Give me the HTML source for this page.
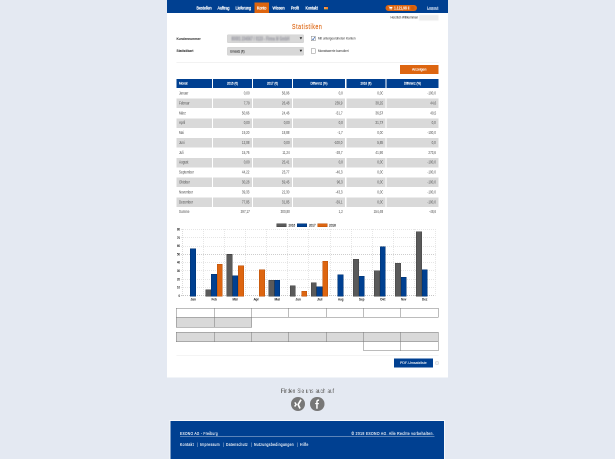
<!DOCTYPE html>
<html><head><meta charset="utf-8"><title>Statistiken</title><style>

html,body{margin:0;padding:0;}
body{width:615px;height:459px;overflow:hidden;background:#e4e9f2;position:relative;font-family:"Liberation Sans",sans-serif;}
#r{position:absolute;left:0;top:0;width:1230px;height:918px;overflow:hidden;transform:scale(0.5);transform-origin:0 0;will-change:transform;}
#r>div{position:absolute;}
#r>span{position:absolute;white-space:nowrap;transform-origin:0 50%;}
#r>span.r{transform-origin:100% 50%;}
#r>svg{position:absolute;overflow:visible;}

</style></head><body><div id="r">
<div style="left:334.00px;top:0.00px;width:562.00px;height:755.00px;background:#fff;"></div>
<div style="left:334.00px;top:0.00px;width:562.00px;height:25.60px;background:#004091;"></div>
<div style="left:509.20px;top:5.00px;width:28.60px;height:21.00px;background:#dd6510;"></div>
<div style="left:648.00px;top:13.00px;width:8.00px;height:1.40px;background:#1d2f55;"></div>
<div style="left:648.00px;top:14.40px;width:8.00px;height:3.20px;background:#f58428;background:linear-gradient(90deg,#fba55c,#f57a1c);"></div>
<div style="left:648.00px;top:17.60px;width:8.00px;height:1.60px;background:#8f9a4a;"></div>
<div style="left:770.80px;top:10.00px;width:63.20px;height:12.00px;background:#dd6510;border-radius:6.00px;"></div>
<div style="left:838.40px;top:29.60px;width:38.40px;height:11.20px;background:#ececec;filter:blur(1.2px);"></div>
<div style="left:454.80px;top:70.20px;width:152.20px;height:14.80px;background:#d8d8d8;box-shadow:0 0 0 0.7px #c4c4c4;border-radius:1px;"></div>
<div style="left:454.80px;top:94.60px;width:152.20px;height:15.40px;background:#d8d8d8;box-shadow:0 0 0 0.7px #c4c4c4;border-radius:1px;"></div>
<div style="left:622.20px;top:72.00px;width:9.00px;height:10.40px;background:#fff;box-shadow:inset 0 0 0 1px #8a8a8a;"></div>
<div style="left:622.20px;top:96.80px;width:9.00px;height:10.40px;background:#fff;box-shadow:inset 0 0 0 1px #8a8a8a;"></div>
<div style="left:353.20px;top:124.00px;width:523.60px;height:1.00px;background:#e6e6e6;"></div>
<div style="left:800.00px;top:130.00px;width:76.80px;height:18.00px;background:#dd6510;"></div>
<div style="left:353.20px;top:158.00px;width:70.80px;height:18.00px;background:#004091;"></div>
<div style="left:426.00px;top:158.00px;width:78.00px;height:18.00px;background:#004091;"></div>
<div style="left:506.00px;top:158.00px;width:78.00px;height:18.00px;background:#004091;"></div>
<div style="left:586.00px;top:158.00px;width:104.00px;height:18.00px;background:#004091;"></div>
<div style="left:693.00px;top:158.00px;width:77.60px;height:18.00px;background:#004091;"></div>
<div style="left:772.60px;top:158.00px;width:104.20px;height:18.00px;background:#004091;"></div>
<div style="left:353.20px;top:197.16px;width:70.80px;height:18.80px;background:#d9d9d9;"></div>
<div style="left:426.00px;top:197.16px;width:78.00px;height:18.80px;background:#d9d9d9;"></div>
<div style="left:506.00px;top:197.16px;width:78.00px;height:18.80px;background:#d9d9d9;"></div>
<div style="left:586.00px;top:197.16px;width:104.00px;height:18.80px;background:#d9d9d9;"></div>
<div style="left:693.00px;top:197.16px;width:77.60px;height:18.80px;background:#d9d9d9;"></div>
<div style="left:772.60px;top:197.16px;width:104.20px;height:18.80px;background:#d9d9d9;"></div>
<div style="left:353.20px;top:236.68px;width:70.80px;height:18.80px;background:#d9d9d9;"></div>
<div style="left:426.00px;top:236.68px;width:78.00px;height:18.80px;background:#d9d9d9;"></div>
<div style="left:506.00px;top:236.68px;width:78.00px;height:18.80px;background:#d9d9d9;"></div>
<div style="left:586.00px;top:236.68px;width:104.00px;height:18.80px;background:#d9d9d9;"></div>
<div style="left:693.00px;top:236.68px;width:77.60px;height:18.80px;background:#d9d9d9;"></div>
<div style="left:772.60px;top:236.68px;width:104.20px;height:18.80px;background:#d9d9d9;"></div>
<div style="left:353.20px;top:276.20px;width:70.80px;height:18.80px;background:#d9d9d9;"></div>
<div style="left:426.00px;top:276.20px;width:78.00px;height:18.80px;background:#d9d9d9;"></div>
<div style="left:506.00px;top:276.20px;width:78.00px;height:18.80px;background:#d9d9d9;"></div>
<div style="left:586.00px;top:276.20px;width:104.00px;height:18.80px;background:#d9d9d9;"></div>
<div style="left:693.00px;top:276.20px;width:77.60px;height:18.80px;background:#d9d9d9;"></div>
<div style="left:772.60px;top:276.20px;width:104.20px;height:18.80px;background:#d9d9d9;"></div>
<div style="left:353.20px;top:315.72px;width:70.80px;height:18.80px;background:#d9d9d9;"></div>
<div style="left:426.00px;top:315.72px;width:78.00px;height:18.80px;background:#d9d9d9;"></div>
<div style="left:506.00px;top:315.72px;width:78.00px;height:18.80px;background:#d9d9d9;"></div>
<div style="left:586.00px;top:315.72px;width:104.00px;height:18.80px;background:#d9d9d9;"></div>
<div style="left:693.00px;top:315.72px;width:77.60px;height:18.80px;background:#d9d9d9;"></div>
<div style="left:772.60px;top:315.72px;width:104.20px;height:18.80px;background:#d9d9d9;"></div>
<div style="left:353.20px;top:355.24px;width:70.80px;height:18.80px;background:#d9d9d9;"></div>
<div style="left:426.00px;top:355.24px;width:78.00px;height:18.80px;background:#d9d9d9;"></div>
<div style="left:506.00px;top:355.24px;width:78.00px;height:18.80px;background:#d9d9d9;"></div>
<div style="left:586.00px;top:355.24px;width:104.00px;height:18.80px;background:#d9d9d9;"></div>
<div style="left:693.00px;top:355.24px;width:77.60px;height:18.80px;background:#d9d9d9;"></div>
<div style="left:772.60px;top:355.24px;width:104.20px;height:18.80px;background:#d9d9d9;"></div>
<div style="left:353.20px;top:394.76px;width:70.80px;height:18.80px;background:#d9d9d9;"></div>
<div style="left:426.00px;top:394.76px;width:78.00px;height:18.80px;background:#d9d9d9;"></div>
<div style="left:506.00px;top:394.76px;width:78.00px;height:18.80px;background:#d9d9d9;"></div>
<div style="left:586.00px;top:394.76px;width:104.00px;height:18.80px;background:#d9d9d9;"></div>
<div style="left:693.00px;top:394.76px;width:77.60px;height:18.80px;background:#d9d9d9;"></div>
<div style="left:772.60px;top:394.76px;width:104.20px;height:18.80px;background:#d9d9d9;"></div>
<div style="left:362px;top:591px;width:509px;height:1px;background:repeating-linear-gradient(90deg,#8c8c8c 0 2px,transparent 2px 4px)"></div>
<div style="left:362px;top:574px;width:509px;height:1px;background:repeating-linear-gradient(90deg,#cdcdcd 0 2px,transparent 2px 4px)"></div>
<div style="left:362px;top:558px;width:509px;height:1px;background:repeating-linear-gradient(90deg,#cdcdcd 0 2px,transparent 2px 4px)"></div>
<div style="left:362px;top:541px;width:509px;height:1px;background:repeating-linear-gradient(90deg,#cdcdcd 0 2px,transparent 2px 4px)"></div>
<div style="left:362px;top:525px;width:509px;height:1px;background:repeating-linear-gradient(90deg,#cdcdcd 0 2px,transparent 2px 4px)"></div>
<div style="left:362px;top:508px;width:509px;height:1px;background:repeating-linear-gradient(90deg,#cdcdcd 0 2px,transparent 2px 4px)"></div>
<div style="left:362px;top:492px;width:509px;height:1px;background:repeating-linear-gradient(90deg,#cdcdcd 0 2px,transparent 2px 4px)"></div>
<div style="left:362px;top:475px;width:509px;height:1px;background:repeating-linear-gradient(90deg,#cdcdcd 0 2px,transparent 2px 4px)"></div>
<div style="left:362px;top:458px;width:509px;height:1px;background:repeating-linear-gradient(90deg,#cdcdcd 0 2px,transparent 2px 4px)"></div>
<div style="left:364px;top:458px;width:1px;height:136px;background:repeating-linear-gradient(180deg,#b8b8b8 0 2px,transparent 2px 4px)"></div>
<div style="left:407px;top:458px;width:1px;height:136px;background:repeating-linear-gradient(180deg,#cdcdcd 0 2px,transparent 2px 4px)"></div>
<div style="left:449px;top:458px;width:1px;height:136px;background:repeating-linear-gradient(180deg,#cdcdcd 0 2px,transparent 2px 4px)"></div>
<div style="left:491px;top:458px;width:1px;height:136px;background:repeating-linear-gradient(180deg,#cdcdcd 0 2px,transparent 2px 4px)"></div>
<div style="left:533px;top:458px;width:1px;height:136px;background:repeating-linear-gradient(180deg,#cdcdcd 0 2px,transparent 2px 4px)"></div>
<div style="left:575px;top:458px;width:1px;height:136px;background:repeating-linear-gradient(180deg,#cdcdcd 0 2px,transparent 2px 4px)"></div>
<div style="left:617px;top:458px;width:1px;height:136px;background:repeating-linear-gradient(180deg,#cdcdcd 0 2px,transparent 2px 4px)"></div>
<div style="left:660px;top:458px;width:1px;height:136px;background:repeating-linear-gradient(180deg,#cdcdcd 0 2px,transparent 2px 4px)"></div>
<div style="left:702px;top:458px;width:1px;height:136px;background:repeating-linear-gradient(180deg,#cdcdcd 0 2px,transparent 2px 4px)"></div>
<div style="left:744px;top:458px;width:1px;height:136px;background:repeating-linear-gradient(180deg,#cdcdcd 0 2px,transparent 2px 4px)"></div>
<div style="left:786px;top:458px;width:1px;height:136px;background:repeating-linear-gradient(180deg,#cdcdcd 0 2px,transparent 2px 4px)"></div>
<div style="left:828px;top:458px;width:1px;height:136px;background:repeating-linear-gradient(180deg,#cdcdcd 0 2px,transparent 2px 4px)"></div>
<div style="left:870px;top:458px;width:1px;height:136px;background:repeating-linear-gradient(180deg,#cdcdcd 0 2px,transparent 2px 4px)"></div>
<div style="left:380.32px;top:497.13px;width:11.50px;height:95.47px;background:#004091;box-shadow:inset 0 0 0 1px #00326f;"></div>
<div style="left:410.97px;top:578.51px;width:11.50px;height:14.09px;background:#5a5a5a;box-shadow:inset 0 0 0 1px #444;"></div>
<div style="left:422.47px;top:547.58px;width:11.50px;height:45.02px;background:#004091;box-shadow:inset 0 0 0 1px #00326f;"></div>
<div style="left:433.97px;top:528.03px;width:11.50px;height:64.57px;background:#dd6510;box-shadow:inset 0 0 0 1px #b9520b;"></div>
<div style="left:453.12px;top:507.56px;width:11.50px;height:85.04px;background:#5a5a5a;box-shadow:inset 0 0 0 1px #444;"></div>
<div style="left:464.62px;top:550.92px;width:11.50px;height:41.68px;background:#004091;box-shadow:inset 0 0 0 1px #00326f;"></div>
<div style="left:476.12px;top:530.88px;width:11.50px;height:61.72px;background:#dd6510;box-shadow:inset 0 0 0 1px #b9520b;"></div>
<div style="left:518.27px;top:538.82px;width:11.50px;height:53.78px;background:#dd6510;box-shadow:inset 0 0 0 1px #b9520b;"></div>
<div style="left:537.43px;top:559.62px;width:11.50px;height:32.98px;background:#5a5a5a;box-shadow:inset 0 0 0 1px #444;"></div>
<div style="left:548.93px;top:560.15px;width:11.50px;height:32.45px;background:#004091;box-shadow:inset 0 0 0 1px #00326f;"></div>
<div style="left:579.58px;top:571.41px;width:11.50px;height:21.19px;background:#5a5a5a;box-shadow:inset 0 0 0 1px #444;"></div>
<div style="left:602.58px;top:581.72px;width:11.50px;height:10.88px;background:#dd6510;box-shadow:inset 0 0 0 1px #b9520b;"></div>
<div style="left:621.73px;top:565.32px;width:11.50px;height:27.28px;background:#5a5a5a;box-shadow:inset 0 0 0 1px #444;"></div>
<div style="left:633.23px;top:572.80px;width:11.50px;height:19.80px;background:#004091;box-shadow:inset 0 0 0 1px #00326f;"></div>
<div style="left:644.73px;top:521.91px;width:11.50px;height:70.69px;background:#dd6510;box-shadow:inset 0 0 0 1px #b9520b;"></div>
<div style="left:675.38px;top:549.35px;width:11.50px;height:43.25px;background:#004091;box-shadow:inset 0 0 0 1px #00326f;"></div>
<div style="left:706.03px;top:518.22px;width:11.50px;height:74.38px;background:#5a5a5a;box-shadow:inset 0 0 0 1px #444;"></div>
<div style="left:717.53px;top:552.06px;width:11.50px;height:40.54px;background:#004091;box-shadow:inset 0 0 0 1px #00326f;"></div>
<div style="left:748.17px;top:541.29px;width:11.50px;height:51.31px;background:#5a5a5a;box-shadow:inset 0 0 0 1px #444;"></div>
<div style="left:759.67px;top:493.01px;width:11.50px;height:99.59px;background:#004091;box-shadow:inset 0 0 0 1px #00326f;"></div>
<div style="left:790.33px;top:526.31px;width:11.50px;height:66.29px;background:#5a5a5a;box-shadow:inset 0 0 0 1px #444;"></div>
<div style="left:801.83px;top:554.49px;width:11.50px;height:38.11px;background:#004091;box-shadow:inset 0 0 0 1px #00326f;"></div>
<div style="left:832.48px;top:462.56px;width:11.50px;height:130.04px;background:#5a5a5a;box-shadow:inset 0 0 0 1px #444;"></div>
<div style="left:843.98px;top:538.69px;width:11.50px;height:53.91px;background:#004091;box-shadow:inset 0 0 0 1px #00326f;"></div>
<div style="left:553.40px;top:447.20px;width:20.00px;height:7.00px;background:#5a5a5a;box-shadow:inset 0 0 0 1px #444;"></div>
<div style="left:594.20px;top:447.20px;width:19.80px;height:7.00px;background:#004091;box-shadow:inset 0 0 0 1px #00326f;"></div>
<div style="left:635.20px;top:447.20px;width:19.40px;height:7.00px;background:#dd6510;box-shadow:inset 0 0 0 1px #b9520b;"></div>
<div style="left:352.80px;top:616.20px;width:523.80px;height:18.00px;background:#fff;"></div>
<div style="left:352.30px;top:615.70px;width:524.80px;height:1.0px;background:#7a7a7a"></div>
<div style="left:352.30px;top:633.70px;width:524.80px;height:1.0px;background:#7a7a7a"></div>
<div style="left:352.30px;top:615.70px;width:1.0px;height:19.00px;background:#7a7a7a"></div>
<div style="left:428.10px;top:615.70px;width:1.0px;height:19.00px;background:#7a7a7a"></div>
<div style="left:502.50px;top:615.70px;width:1.0px;height:19.00px;background:#7a7a7a"></div>
<div style="left:577.10px;top:615.70px;width:1.0px;height:19.00px;background:#7a7a7a"></div>
<div style="left:651.90px;top:615.70px;width:1.0px;height:19.00px;background:#7a7a7a"></div>
<div style="left:726.50px;top:615.70px;width:1.0px;height:19.00px;background:#7a7a7a"></div>
<div style="left:800.70px;top:615.70px;width:1.0px;height:19.00px;background:#7a7a7a"></div>
<div style="left:876.10px;top:615.70px;width:1.0px;height:19.00px;background:#7a7a7a"></div>
<div style="left:352.80px;top:634.20px;width:150.20px;height:20.00px;background:#d9d9d9;"></div>
<div style="left:352.30px;top:633.70px;width:151.20px;height:1.0px;background:#7a7a7a"></div>
<div style="left:352.30px;top:653.70px;width:151.20px;height:1.0px;background:#7a7a7a"></div>
<div style="left:352.30px;top:633.70px;width:1.0px;height:21.00px;background:#7a7a7a"></div>
<div style="left:428.10px;top:633.70px;width:1.0px;height:21.00px;background:#7a7a7a"></div>
<div style="left:502.50px;top:633.70px;width:1.0px;height:21.00px;background:#7a7a7a"></div>
<div style="left:352.80px;top:664.00px;width:523.80px;height:19.00px;background:#d9d9d9;"></div>
<div style="left:352.30px;top:663.50px;width:524.80px;height:1.0px;background:#7a7a7a"></div>
<div style="left:352.30px;top:682.50px;width:524.80px;height:1.0px;background:#7a7a7a"></div>
<div style="left:352.30px;top:663.50px;width:1.0px;height:20.00px;background:#7a7a7a"></div>
<div style="left:428.10px;top:663.50px;width:1.0px;height:20.00px;background:#7a7a7a"></div>
<div style="left:502.50px;top:663.50px;width:1.0px;height:20.00px;background:#7a7a7a"></div>
<div style="left:577.10px;top:663.50px;width:1.0px;height:20.00px;background:#7a7a7a"></div>
<div style="left:651.90px;top:663.50px;width:1.0px;height:20.00px;background:#7a7a7a"></div>
<div style="left:726.50px;top:663.50px;width:1.0px;height:20.00px;background:#7a7a7a"></div>
<div style="left:800.70px;top:663.50px;width:1.0px;height:20.00px;background:#7a7a7a"></div>
<div style="left:876.10px;top:663.50px;width:1.0px;height:20.00px;background:#7a7a7a"></div>
<div style="left:727.00px;top:683.00px;width:149.60px;height:18.40px;background:#fff;"></div>
<div style="left:726.50px;top:682.50px;width:150.60px;height:1.0px;background:#7a7a7a"></div>
<div style="left:726.50px;top:700.90px;width:150.60px;height:1.0px;background:#7a7a7a"></div>
<div style="left:726.50px;top:682.50px;width:1.0px;height:19.40px;background:#7a7a7a"></div>
<div style="left:800.70px;top:682.50px;width:1.0px;height:19.40px;background:#7a7a7a"></div>
<div style="left:876.10px;top:682.50px;width:1.0px;height:19.40px;background:#7a7a7a"></div>
<div style="left:353.20px;top:711.00px;width:523.60px;height:1.00px;background:#e9e9e9;"></div>
<div style="left:788.40px;top:717.00px;width:77.40px;height:18.20px;background:#004091;"></div>
<div style="left:869.60px;top:722.00px;width:8.00px;height:8.00px;border-radius:50%;background:#f3f3f3;box-shadow:inset 0 0 0 1.4px #d9d9d9"></div>
<div style="left:581.90px;top:794.10px;width:28.40px;height:28.40px;border-radius:50%;background:#777"></div>
<div style="left:620.40px;top:794.10px;width:28.40px;height:28.40px;border-radius:50%;background:#777"></div>
<div style="left:341.00px;top:842.00px;width:547.00px;height:78.00px;background:#004091;box-shadow:0 0 0 2px #f6f8fb;"></div>
<div style="left:360.00px;top:872.00px;width:509.20px;height:1.00px;background:#b9c8e0;"></div>
<svg style="left:598.60px;top:73.60px;width:5.60px;height:5.20px" viewBox="0 0 10 10"><path d="M0 1 L10 1 L5 9.5 Z" fill="#222"/></svg>
<svg style="left:598.60px;top:98.80px;width:5.60px;height:5.20px" viewBox="0 0 10 10"><path d="M0 1 L10 1 L5 9.5 Z" fill="#222"/></svg>
<svg style="left:622.00px;top:72.00px;width:9.40px;height:10.40px" viewBox="0 0 10 10.8"><path d="M2.6 5.8 L4.4 8.0 L8.2 1.9" fill="none" stroke="#2b5cab" stroke-width="1.35"/></svg>
<svg style="left:776.60px;top:12.20px;width:8.40px;height:7.60px" viewBox="0 0 20 18"><path d="M0 1.2 H3.6 L4.6 4 H19.5 L17.2 10.8 H6.6 L7.2 12.6 H17.6 V14 H6 L2.6 2.8 H0 Z" fill="#fff"/><circle cx="7.6" cy="16" r="1.8" fill="#fff"/><circle cx="15.6" cy="16" r="1.8" fill="#fff"/></svg>
<div style="left:822.00px;top:12.40px;width:7.20px;height:7.20px;border-radius:50%;background:#c95a0c;opacity:.7"></div>
<svg style="left:581.90px;top:794.10px;width:28.40px;height:28.40px" viewBox="-7.1 -7.1 14.2 14.2"><path d="M2.9 -4.4 L0 0.5 L1.95 4.4" fill="none" stroke="#fff" stroke-width="1.7" stroke-linejoin="miter"/><path d="M-3.3 -1.7 L-1.9 0.4 L-3.5 2.4" fill="none" stroke="#fff" stroke-width="1.45"/></svg>
<svg style="left:620.40px;top:794.10px;width:28.40px;height:28.40px" viewBox="-7.1 -7.1 14.2 14.2"><path d="M-0.15 4.7 V-2.3 Q-0.15 -4.1 2.0 -3.9" fill="none" stroke="#fff" stroke-width="1.5"/><path d="M-1.95 -0.5 H1.8" fill="none" stroke="#fff" stroke-width="1.15"/></svg>
<span style="top:10px;font-size:9px;line-height:13px;color:#fff;left:392.80px;transform:scaleX(0.8209);-webkit-text-stroke:0.5px #fff;">Bestellen</span>
<span style="top:10px;font-size:9px;line-height:13px;color:#fff;left:435.20px;transform:scaleX(0.8267);-webkit-text-stroke:0.5px #fff;">Auftrag</span>
<span style="top:10px;font-size:9px;line-height:13px;color:#fff;left:470.80px;transform:scaleX(0.8313);-webkit-text-stroke:0.5px #fff;">Lieferung</span>
<span style="top:10px;font-size:9px;line-height:13px;color:#fff;left:514.00px;transform:scaleX(0.7989);-webkit-text-stroke:0.5px #fff;">Konto</span>
<span style="top:10px;font-size:9px;line-height:13px;color:#fff;left:544.80px;transform:scaleX(0.8267);-webkit-text-stroke:0.5px #fff;">Wissen</span>
<span style="top:10px;font-size:9px;line-height:13px;color:#fff;left:582.00px;transform:scaleX(0.7613);-webkit-text-stroke:0.5px #fff;">Profit</span>
<span style="top:10px;font-size:9px;line-height:13px;color:#fff;left:610.80px;transform:scaleX(0.8123);-webkit-text-stroke:0.5px #fff;">Kontakt</span>
<span style="top:10px;font-size:8.8px;line-height:13px;color:#fff;font-weight:bold;left:788.40px;transform:scaleX(0.7501);">1.121,98 €</span>
<span style="top:10px;font-size:8px;line-height:12px;color:#d5e0f2;left:854.00px;transform:scaleX(0.9318);text-decoration:underline;-webkit-text-stroke:0.25px #d5e0f2;">Logout</span>
<span style="top:30px;font-size:7px;line-height:10px;color:#555;left:781.00px;transform:scaleX(0.8478);-webkit-text-stroke:0.2px #555;">Herzlich Willkommen</span>
<span style="top:43px;font-size:15px;line-height:20px;color:#dd6510;left:584.00px;transform:scaleX(0.7004);letter-spacing:1.6px;-webkit-text-stroke:0.3px #dd6510;">Statistiken</span>
<span style="top:72px;font-size:8px;line-height:12px;color:#333;font-weight:bold;left:353.20px;transform:scaleX(0.7890);-webkit-text-stroke:0.1px #333;">Kundennummer</span>
<span style="top:96px;font-size:8px;line-height:12px;color:#333;font-weight:bold;left:353.20px;transform:scaleX(0.8221);-webkit-text-stroke:0.1px #333;">Statistikart</span>
<span style="top:70px;font-size:11px;line-height:15px;color:#a2a2aa;font-weight:bold;left:463.00px;transform:scaleX(0.6042);filter:blur(1.5px);-webkit-text-stroke:0.6px #a2a2aa;">80001 234567 / 0123 - Firma M GmbH</span>
<span style="top:98px;font-size:7px;line-height:10px;color:#444;left:460.00px;transform:scaleX(0.8529);-webkit-text-stroke:0.25px #444;">Umsatz (€)</span>
<span style="top:71px;font-size:7.2px;line-height:11px;color:#555;left:636.40px;transform:scaleX(0.8439);-webkit-text-stroke:0.15px #555;">Mit untergeordneten Konten</span>
<span style="top:96px;font-size:7.2px;line-height:11px;color:#555;left:636.40px;transform:scaleX(0.8463);-webkit-text-stroke:0.15px #555;">Monatswerte kumuliert</span>
<span style="top:134px;font-size:7px;line-height:10px;color:#fff;left:824.00px;transform:scaleX(0.9862);-webkit-text-stroke:0.25px #fff;">Anzeigen</span>
<span style="top:161px;font-size:7.2px;line-height:11px;color:#fff;left:358.00px;transform:scaleX(0.8507);-webkit-text-stroke:0.3px #fff;">Monat</span>
<span style="top:161px;font-size:7.2px;line-height:11px;color:#fff;left:454.00px;transform:scaleX(0.8215);-webkit-text-stroke:0.3px #fff;">2016 (€)</span>
<span style="top:161px;font-size:7.2px;line-height:11px;color:#fff;left:534.00px;transform:scaleX(0.8215);-webkit-text-stroke:0.3px #fff;">2017 (€)</span>
<span style="top:161px;font-size:7.2px;line-height:11px;color:#fff;left:621.00px;transform:scaleX(0.8132);-webkit-text-stroke:0.3px #fff;">Differenz (%)</span>
<span style="top:161px;font-size:7.2px;line-height:11px;color:#fff;left:720.80px;transform:scaleX(0.8215);-webkit-text-stroke:0.3px #fff;">2018 (€)</span>
<span style="top:161px;font-size:7.2px;line-height:11px;color:#fff;left:807.70px;transform:scaleX(0.8132);-webkit-text-stroke:0.3px #fff;">Differenz (%)</span>
<span style="top:180px;font-size:8.4px;line-height:12px;color:#646464;left:358.00px;transform:scaleX(0.7200);-webkit-text-stroke:0.1px #646464;">Januar</span>
<span class="r" style="top:180px;font-size:8.4px;line-height:12px;color:#646464;right:730.80px;transform:scaleX(0.7200);-webkit-text-stroke:0.1px #646464;">0,00</span>
<span class="r" style="top:180px;font-size:8.4px;line-height:12px;color:#646464;right:650.80px;transform:scaleX(0.7200);-webkit-text-stroke:0.1px #646464;">56,96</span>
<span class="r" style="top:180px;font-size:8.4px;line-height:12px;color:#646464;right:544.80px;transform:scaleX(0.7200);-webkit-text-stroke:0.1px #646464;">0,0</span>
<span class="r" style="top:180px;font-size:8.4px;line-height:12px;color:#646464;right:464.20px;transform:scaleX(0.7200);-webkit-text-stroke:0.1px #646464;">0,00</span>
<span class="r" style="top:180px;font-size:8.4px;line-height:12px;color:#646464;right:358.00px;transform:scaleX(0.7200);-webkit-text-stroke:0.1px #646464;">-100,0</span>
<span style="top:200px;font-size:8.4px;line-height:12px;color:#646464;left:358.00px;transform:scaleX(0.7200);-webkit-text-stroke:0.1px #646464;">Februar</span>
<span class="r" style="top:200px;font-size:8.4px;line-height:12px;color:#646464;right:730.80px;transform:scaleX(0.7200);-webkit-text-stroke:0.1px #646464;">7,79</span>
<span class="r" style="top:200px;font-size:8.4px;line-height:12px;color:#646464;right:650.80px;transform:scaleX(0.7200);-webkit-text-stroke:0.1px #646464;">26,48</span>
<span class="r" style="top:200px;font-size:8.4px;line-height:12px;color:#646464;right:544.80px;transform:scaleX(0.7200);-webkit-text-stroke:0.1px #646464;">239,9</span>
<span class="r" style="top:200px;font-size:8.4px;line-height:12px;color:#646464;right:464.20px;transform:scaleX(0.7200);-webkit-text-stroke:0.1px #646464;">38,29</span>
<span class="r" style="top:200px;font-size:8.4px;line-height:12px;color:#646464;right:358.00px;transform:scaleX(0.7200);-webkit-text-stroke:0.1px #646464;">44,6</span>
<span style="top:220px;font-size:8.4px;line-height:12px;color:#646464;left:358.00px;transform:scaleX(0.7200);-webkit-text-stroke:0.1px #646464;">März</span>
<span class="r" style="top:220px;font-size:8.4px;line-height:12px;color:#646464;right:730.80px;transform:scaleX(0.7200);-webkit-text-stroke:0.1px #646464;">50,66</span>
<span class="r" style="top:220px;font-size:8.4px;line-height:12px;color:#646464;right:650.80px;transform:scaleX(0.7200);-webkit-text-stroke:0.1px #646464;">24,46</span>
<span class="r" style="top:220px;font-size:8.4px;line-height:12px;color:#646464;right:544.80px;transform:scaleX(0.7200);-webkit-text-stroke:0.1px #646464;">-51,7</span>
<span class="r" style="top:220px;font-size:8.4px;line-height:12px;color:#646464;right:464.20px;transform:scaleX(0.7200);-webkit-text-stroke:0.1px #646464;">36,57</span>
<span class="r" style="top:220px;font-size:8.4px;line-height:12px;color:#646464;right:358.00px;transform:scaleX(0.7200);-webkit-text-stroke:0.1px #646464;">49,5</span>
<span style="top:239px;font-size:8.4px;line-height:12px;color:#646464;left:358.00px;transform:scaleX(0.7200);-webkit-text-stroke:0.1px #646464;">April</span>
<span class="r" style="top:239px;font-size:8.4px;line-height:12px;color:#646464;right:730.80px;transform:scaleX(0.7200);-webkit-text-stroke:0.1px #646464;">0,00</span>
<span class="r" style="top:239px;font-size:8.4px;line-height:12px;color:#646464;right:650.80px;transform:scaleX(0.7200);-webkit-text-stroke:0.1px #646464;">0,00</span>
<span class="r" style="top:239px;font-size:8.4px;line-height:12px;color:#646464;right:544.80px;transform:scaleX(0.7200);-webkit-text-stroke:0.1px #646464;">0,0</span>
<span class="r" style="top:239px;font-size:8.4px;line-height:12px;color:#646464;right:464.20px;transform:scaleX(0.7200);-webkit-text-stroke:0.1px #646464;">31,77</span>
<span class="r" style="top:239px;font-size:8.4px;line-height:12px;color:#646464;right:358.00px;transform:scaleX(0.7200);-webkit-text-stroke:0.1px #646464;">0,0</span>
<span style="top:259px;font-size:8.4px;line-height:12px;color:#646464;left:358.00px;transform:scaleX(0.7200);-webkit-text-stroke:0.1px #646464;">Mai</span>
<span class="r" style="top:259px;font-size:8.4px;line-height:12px;color:#646464;right:730.80px;transform:scaleX(0.7200);-webkit-text-stroke:0.1px #646464;">19,20</span>
<span class="r" style="top:259px;font-size:8.4px;line-height:12px;color:#646464;right:650.80px;transform:scaleX(0.7200);-webkit-text-stroke:0.1px #646464;">18,88</span>
<span class="r" style="top:259px;font-size:8.4px;line-height:12px;color:#646464;right:544.80px;transform:scaleX(0.7200);-webkit-text-stroke:0.1px #646464;">-1,7</span>
<span class="r" style="top:259px;font-size:8.4px;line-height:12px;color:#646464;right:464.20px;transform:scaleX(0.7200);-webkit-text-stroke:0.1px #646464;">0,00</span>
<span class="r" style="top:259px;font-size:8.4px;line-height:12px;color:#646464;right:358.00px;transform:scaleX(0.7200);-webkit-text-stroke:0.1px #646464;">-100,0</span>
<span style="top:279px;font-size:8.4px;line-height:12px;color:#646464;left:358.00px;transform:scaleX(0.7200);-webkit-text-stroke:0.1px #646464;">Juni</span>
<span class="r" style="top:279px;font-size:8.4px;line-height:12px;color:#646464;right:730.80px;transform:scaleX(0.7200);-webkit-text-stroke:0.1px #646464;">12,08</span>
<span class="r" style="top:279px;font-size:8.4px;line-height:12px;color:#646464;right:650.80px;transform:scaleX(0.7200);-webkit-text-stroke:0.1px #646464;">0,00</span>
<span class="r" style="top:279px;font-size:8.4px;line-height:12px;color:#646464;right:544.80px;transform:scaleX(0.7200);-webkit-text-stroke:0.1px #646464;">-100,0</span>
<span class="r" style="top:279px;font-size:8.4px;line-height:12px;color:#646464;right:464.20px;transform:scaleX(0.7200);-webkit-text-stroke:0.1px #646464;">5,85</span>
<span class="r" style="top:279px;font-size:8.4px;line-height:12px;color:#646464;right:358.00px;transform:scaleX(0.7200);-webkit-text-stroke:0.1px #646464;">0,0</span>
<span style="top:299px;font-size:8.4px;line-height:12px;color:#646464;left:358.00px;transform:scaleX(0.7200);-webkit-text-stroke:0.1px #646464;">Juli</span>
<span class="r" style="top:299px;font-size:8.4px;line-height:12px;color:#646464;right:730.80px;transform:scaleX(0.7200);-webkit-text-stroke:0.1px #646464;">15,76</span>
<span class="r" style="top:299px;font-size:8.4px;line-height:12px;color:#646464;right:650.80px;transform:scaleX(0.7200);-webkit-text-stroke:0.1px #646464;">11,24</span>
<span class="r" style="top:299px;font-size:8.4px;line-height:12px;color:#646464;right:544.80px;transform:scaleX(0.7200);-webkit-text-stroke:0.1px #646464;">-28,7</span>
<span class="r" style="top:299px;font-size:8.4px;line-height:12px;color:#646464;right:464.20px;transform:scaleX(0.7200);-webkit-text-stroke:0.1px #646464;">41,99</span>
<span class="r" style="top:299px;font-size:8.4px;line-height:12px;color:#646464;right:358.00px;transform:scaleX(0.7200);-webkit-text-stroke:0.1px #646464;">273,6</span>
<span style="top:318px;font-size:8.4px;line-height:12px;color:#646464;left:358.00px;transform:scaleX(0.7200);-webkit-text-stroke:0.1px #646464;">August</span>
<span class="r" style="top:318px;font-size:8.4px;line-height:12px;color:#646464;right:730.80px;transform:scaleX(0.7200);-webkit-text-stroke:0.1px #646464;">0,00</span>
<span class="r" style="top:318px;font-size:8.4px;line-height:12px;color:#646464;right:650.80px;transform:scaleX(0.7200);-webkit-text-stroke:0.1px #646464;">25,41</span>
<span class="r" style="top:318px;font-size:8.4px;line-height:12px;color:#646464;right:544.80px;transform:scaleX(0.7200);-webkit-text-stroke:0.1px #646464;">0,0</span>
<span class="r" style="top:318px;font-size:8.4px;line-height:12px;color:#646464;right:464.20px;transform:scaleX(0.7200);-webkit-text-stroke:0.1px #646464;">0,00</span>
<span class="r" style="top:318px;font-size:8.4px;line-height:12px;color:#646464;right:358.00px;transform:scaleX(0.7200);-webkit-text-stroke:0.1px #646464;">-100,0</span>
<span style="top:338px;font-size:8.4px;line-height:12px;color:#646464;left:358.00px;transform:scaleX(0.7200);-webkit-text-stroke:0.1px #646464;">September</span>
<span class="r" style="top:338px;font-size:8.4px;line-height:12px;color:#646464;right:730.80px;transform:scaleX(0.7200);-webkit-text-stroke:0.1px #646464;">44,22</span>
<span class="r" style="top:338px;font-size:8.4px;line-height:12px;color:#646464;right:650.80px;transform:scaleX(0.7200);-webkit-text-stroke:0.1px #646464;">23,77</span>
<span class="r" style="top:338px;font-size:8.4px;line-height:12px;color:#646464;right:544.80px;transform:scaleX(0.7200);-webkit-text-stroke:0.1px #646464;">-46,3</span>
<span class="r" style="top:338px;font-size:8.4px;line-height:12px;color:#646464;right:464.20px;transform:scaleX(0.7200);-webkit-text-stroke:0.1px #646464;">0,00</span>
<span class="r" style="top:338px;font-size:8.4px;line-height:12px;color:#646464;right:358.00px;transform:scaleX(0.7200);-webkit-text-stroke:0.1px #646464;">-100,0</span>
<span style="top:358px;font-size:8.4px;line-height:12px;color:#646464;left:358.00px;transform:scaleX(0.7200);-webkit-text-stroke:0.1px #646464;">Oktober</span>
<span class="r" style="top:358px;font-size:8.4px;line-height:12px;color:#646464;right:730.80px;transform:scaleX(0.7200);-webkit-text-stroke:0.1px #646464;">30,28</span>
<span class="r" style="top:358px;font-size:8.4px;line-height:12px;color:#646464;right:650.80px;transform:scaleX(0.7200);-webkit-text-stroke:0.1px #646464;">59,45</span>
<span class="r" style="top:358px;font-size:8.4px;line-height:12px;color:#646464;right:544.80px;transform:scaleX(0.7200);-webkit-text-stroke:0.1px #646464;">96,3</span>
<span class="r" style="top:358px;font-size:8.4px;line-height:12px;color:#646464;right:464.20px;transform:scaleX(0.7200);-webkit-text-stroke:0.1px #646464;">0,00</span>
<span class="r" style="top:358px;font-size:8.4px;line-height:12px;color:#646464;right:358.00px;transform:scaleX(0.7200);-webkit-text-stroke:0.1px #646464;">-100,0</span>
<span style="top:378px;font-size:8.4px;line-height:12px;color:#646464;left:358.00px;transform:scaleX(0.7200);-webkit-text-stroke:0.1px #646464;">November</span>
<span class="r" style="top:378px;font-size:8.4px;line-height:12px;color:#646464;right:730.80px;transform:scaleX(0.7200);-webkit-text-stroke:0.1px #646464;">39,33</span>
<span class="r" style="top:378px;font-size:8.4px;line-height:12px;color:#646464;right:650.80px;transform:scaleX(0.7200);-webkit-text-stroke:0.1px #646464;">22,30</span>
<span class="r" style="top:378px;font-size:8.4px;line-height:12px;color:#646464;right:544.80px;transform:scaleX(0.7200);-webkit-text-stroke:0.1px #646464;">-43,3</span>
<span class="r" style="top:378px;font-size:8.4px;line-height:12px;color:#646464;right:464.20px;transform:scaleX(0.7200);-webkit-text-stroke:0.1px #646464;">0,00</span>
<span class="r" style="top:378px;font-size:8.4px;line-height:12px;color:#646464;right:358.00px;transform:scaleX(0.7200);-webkit-text-stroke:0.1px #646464;">-100,0</span>
<span style="top:398px;font-size:8.4px;line-height:12px;color:#646464;left:358.00px;transform:scaleX(0.7200);-webkit-text-stroke:0.1px #646464;">Dezember</span>
<span class="r" style="top:398px;font-size:8.4px;line-height:12px;color:#646464;right:730.80px;transform:scaleX(0.7200);-webkit-text-stroke:0.1px #646464;">77,85</span>
<span class="r" style="top:398px;font-size:8.4px;line-height:12px;color:#646464;right:650.80px;transform:scaleX(0.7200);-webkit-text-stroke:0.1px #646464;">31,85</span>
<span class="r" style="top:398px;font-size:8.4px;line-height:12px;color:#646464;right:544.80px;transform:scaleX(0.7200);-webkit-text-stroke:0.1px #646464;">-59,1</span>
<span class="r" style="top:398px;font-size:8.4px;line-height:12px;color:#646464;right:464.20px;transform:scaleX(0.7200);-webkit-text-stroke:0.1px #646464;">0,00</span>
<span class="r" style="top:398px;font-size:8.4px;line-height:12px;color:#646464;right:358.00px;transform:scaleX(0.7200);-webkit-text-stroke:0.1px #646464;">-100,0</span>
<span style="top:417px;font-size:8.4px;line-height:12px;color:#646464;left:358.00px;transform:scaleX(0.7200);-webkit-text-stroke:0.1px #646464;">Summe</span>
<span class="r" style="top:417px;font-size:8.4px;line-height:12px;color:#646464;right:730.80px;transform:scaleX(0.7200);-webkit-text-stroke:0.1px #646464;">297,17</span>
<span class="r" style="top:417px;font-size:8.4px;line-height:12px;color:#646464;right:650.80px;transform:scaleX(0.7200);-webkit-text-stroke:0.1px #646464;">300,80</span>
<span class="r" style="top:417px;font-size:8.4px;line-height:12px;color:#646464;right:544.80px;transform:scaleX(0.7200);-webkit-text-stroke:0.1px #646464;">1,2</span>
<span class="r" style="top:417px;font-size:8.4px;line-height:12px;color:#646464;right:464.20px;transform:scaleX(0.7200);-webkit-text-stroke:0.1px #646464;">154,49</span>
<span class="r" style="top:417px;font-size:8.4px;line-height:12px;color:#646464;right:358.00px;transform:scaleX(0.7200);-webkit-text-stroke:0.1px #646464;">-48,6</span>
<span style="top:587px;font-size:6.8px;line-height:10px;color:#333;font-weight:bold;left:357.00px;transform:scaleX(0.7934);-webkit-text-stroke:0.1px #333;">0</span>
<span style="top:570px;font-size:6.8px;line-height:10px;color:#333;font-weight:bold;left:354.00px;transform:scaleX(0.7934);-webkit-text-stroke:0.1px #333;">10</span>
<span style="top:554px;font-size:6.8px;line-height:10px;color:#333;font-weight:bold;left:354.00px;transform:scaleX(0.7934);-webkit-text-stroke:0.1px #333;">20</span>
<span style="top:537px;font-size:6.8px;line-height:10px;color:#333;font-weight:bold;left:354.00px;transform:scaleX(0.7934);-webkit-text-stroke:0.1px #333;">30</span>
<span style="top:520px;font-size:6.8px;line-height:10px;color:#333;font-weight:bold;left:354.00px;transform:scaleX(0.7934);-webkit-text-stroke:0.1px #333;">40</span>
<span style="top:504px;font-size:6.8px;line-height:10px;color:#333;font-weight:bold;left:354.00px;transform:scaleX(0.7934);-webkit-text-stroke:0.1px #333;">50</span>
<span style="top:487px;font-size:6.8px;line-height:10px;color:#333;font-weight:bold;left:354.00px;transform:scaleX(0.7934);-webkit-text-stroke:0.1px #333;">60</span>
<span style="top:471px;font-size:6.8px;line-height:10px;color:#333;font-weight:bold;left:354.00px;transform:scaleX(0.7934);-webkit-text-stroke:0.1px #333;">70</span>
<span style="top:454px;font-size:6.8px;line-height:10px;color:#333;font-weight:bold;left:354.00px;transform:scaleX(0.7934);-webkit-text-stroke:0.1px #333;">80</span>
<span style="top:594px;font-size:6.6px;line-height:10px;color:#333;font-weight:bold;left:380.68px;transform:scaleX(0.9495);-webkit-text-stroke:0.1px #333;">Jan</span>
<span style="top:594px;font-size:6.6px;line-height:10px;color:#333;font-weight:bold;left:422.83px;transform:scaleX(0.9204);-webkit-text-stroke:0.1px #333;">Feb</span>
<span style="top:594px;font-size:6.6px;line-height:10px;color:#333;font-weight:bold;left:464.98px;transform:scaleX(0.9204);-webkit-text-stroke:0.1px #333;">Mär</span>
<span style="top:594px;font-size:6.6px;line-height:10px;color:#333;font-weight:bold;left:507.12px;transform:scaleX(0.9508);-webkit-text-stroke:0.1px #333;">Apr</span>
<span style="top:594px;font-size:6.6px;line-height:10px;color:#333;font-weight:bold;left:549.27px;transform:scaleX(0.9818);-webkit-text-stroke:0.1px #333;">Mai</span>
<span style="top:594px;font-size:6.6px;line-height:10px;color:#333;font-weight:bold;left:591.43px;transform:scaleX(0.9204);-webkit-text-stroke:0.1px #333;">Jun</span>
<span style="top:594px;font-size:6.6px;line-height:10px;color:#333;font-weight:bold;left:633.57px;transform:scaleX(1.1331);-webkit-text-stroke:0.1px #333;">Jul</span>
<span style="top:594px;font-size:6.6px;line-height:10px;color:#333;font-weight:bold;left:675.73px;transform:scaleX(0.8419);-webkit-text-stroke:0.1px #333;">Aug</span>
<span style="top:594px;font-size:6.6px;line-height:10px;color:#333;font-weight:bold;left:717.88px;transform:scaleX(0.8930);-webkit-text-stroke:0.1px #333;">Sep</span>
<span style="top:594px;font-size:6.6px;line-height:10px;color:#333;font-weight:bold;left:760.02px;transform:scaleX(0.9818);-webkit-text-stroke:0.1px #333;">Okt</span>
<span style="top:594px;font-size:6.6px;line-height:10px;color:#333;font-weight:bold;left:802.18px;transform:scaleX(0.8662);-webkit-text-stroke:0.1px #333;">Nov</span>
<span style="top:594px;font-size:6.6px;line-height:10px;color:#333;font-weight:bold;left:844.32px;transform:scaleX(0.9204);-webkit-text-stroke:0.1px #333;">Dez</span>
<span style="top:446px;font-size:6.6px;line-height:10px;color:#444;left:576.60px;transform:scaleX(0.9133);-webkit-text-stroke:0.3px #444;">2016</span>
<span style="top:446px;font-size:6.6px;line-height:10px;color:#444;left:617.60px;transform:scaleX(0.8997);-webkit-text-stroke:0.3px #444;">2017</span>
<span style="top:446px;font-size:6.6px;line-height:10px;color:#444;left:658.20px;transform:scaleX(0.9269);-webkit-text-stroke:0.3px #444;">2018</span>
<span style="top:720px;font-size:7.2px;line-height:11px;color:#fff;left:800.40px;transform:scaleX(0.9940);-webkit-text-stroke:0.1px #fff;">PDF-Umsatzliste</span>
<span style="top:774px;font-size:12px;line-height:16px;color:#686868;left:562.00px;transform:scaleX(0.7448);letter-spacing:0.3px;word-spacing:1.5px;-webkit-text-stroke:0.15px #686868;">Finden Sie uns auch auf</span>
<span style="top:861px;font-size:8.6px;line-height:12px;color:#fff;left:360.00px;transform:scaleX(0.7583);letter-spacing:0.8px;-webkit-text-stroke:0.2px #fff;">ESONO AG - Freiburg</span>
<span style="top:861px;font-size:8.6px;line-height:12px;color:#fff;left:703.20px;transform:scaleX(0.7997);letter-spacing:0.8px;-webkit-text-stroke:0.2px #fff;">© 2018 ESONO AG. Alle Rechte vorbehalten.</span>
<span style="top:883px;font-size:8.6px;line-height:12px;color:#fff;left:360.00px;transform:scaleX(0.8058);letter-spacing:0.8px;-webkit-text-stroke:0.2px #fff;">Kontakt</span>
<span style="top:883px;font-size:8.6px;line-height:12px;color:#fff;left:394.40px;transform:scaleX(0.5371);-webkit-text-stroke:0.2px #fff;">|</span>
<span style="top:883px;font-size:8.6px;line-height:12px;color:#fff;left:400.00px;transform:scaleX(0.8048);letter-spacing:0.8px;-webkit-text-stroke:0.2px #fff;">Impressum</span>
<span style="top:883px;font-size:8.6px;line-height:12px;color:#fff;left:446.40px;transform:scaleX(0.5371);-webkit-text-stroke:0.2px #fff;">|</span>
<span style="top:883px;font-size:8.6px;line-height:12px;color:#fff;left:452.00px;transform:scaleX(0.7777);letter-spacing:0.8px;-webkit-text-stroke:0.2px #fff;">Datenschutz</span>
<span style="top:883px;font-size:8.6px;line-height:12px;color:#fff;left:502.80px;transform:scaleX(0.5371);-webkit-text-stroke:0.2px #fff;">|</span>
<span style="top:883px;font-size:8.6px;line-height:12px;color:#fff;left:508.00px;transform:scaleX(0.7904);letter-spacing:0.8px;-webkit-text-stroke:0.2px #fff;">Nutzungsbedingungen</span>
<span style="top:883px;font-size:8.6px;line-height:12px;color:#fff;left:594.40px;transform:scaleX(0.5371);-webkit-text-stroke:0.2px #fff;">|</span>
<span style="top:883px;font-size:8.6px;line-height:12px;color:#fff;left:600.00px;transform:scaleX(0.8112);letter-spacing:0.8px;-webkit-text-stroke:0.2px #fff;">Hilfe</span>
</div></body></html>
